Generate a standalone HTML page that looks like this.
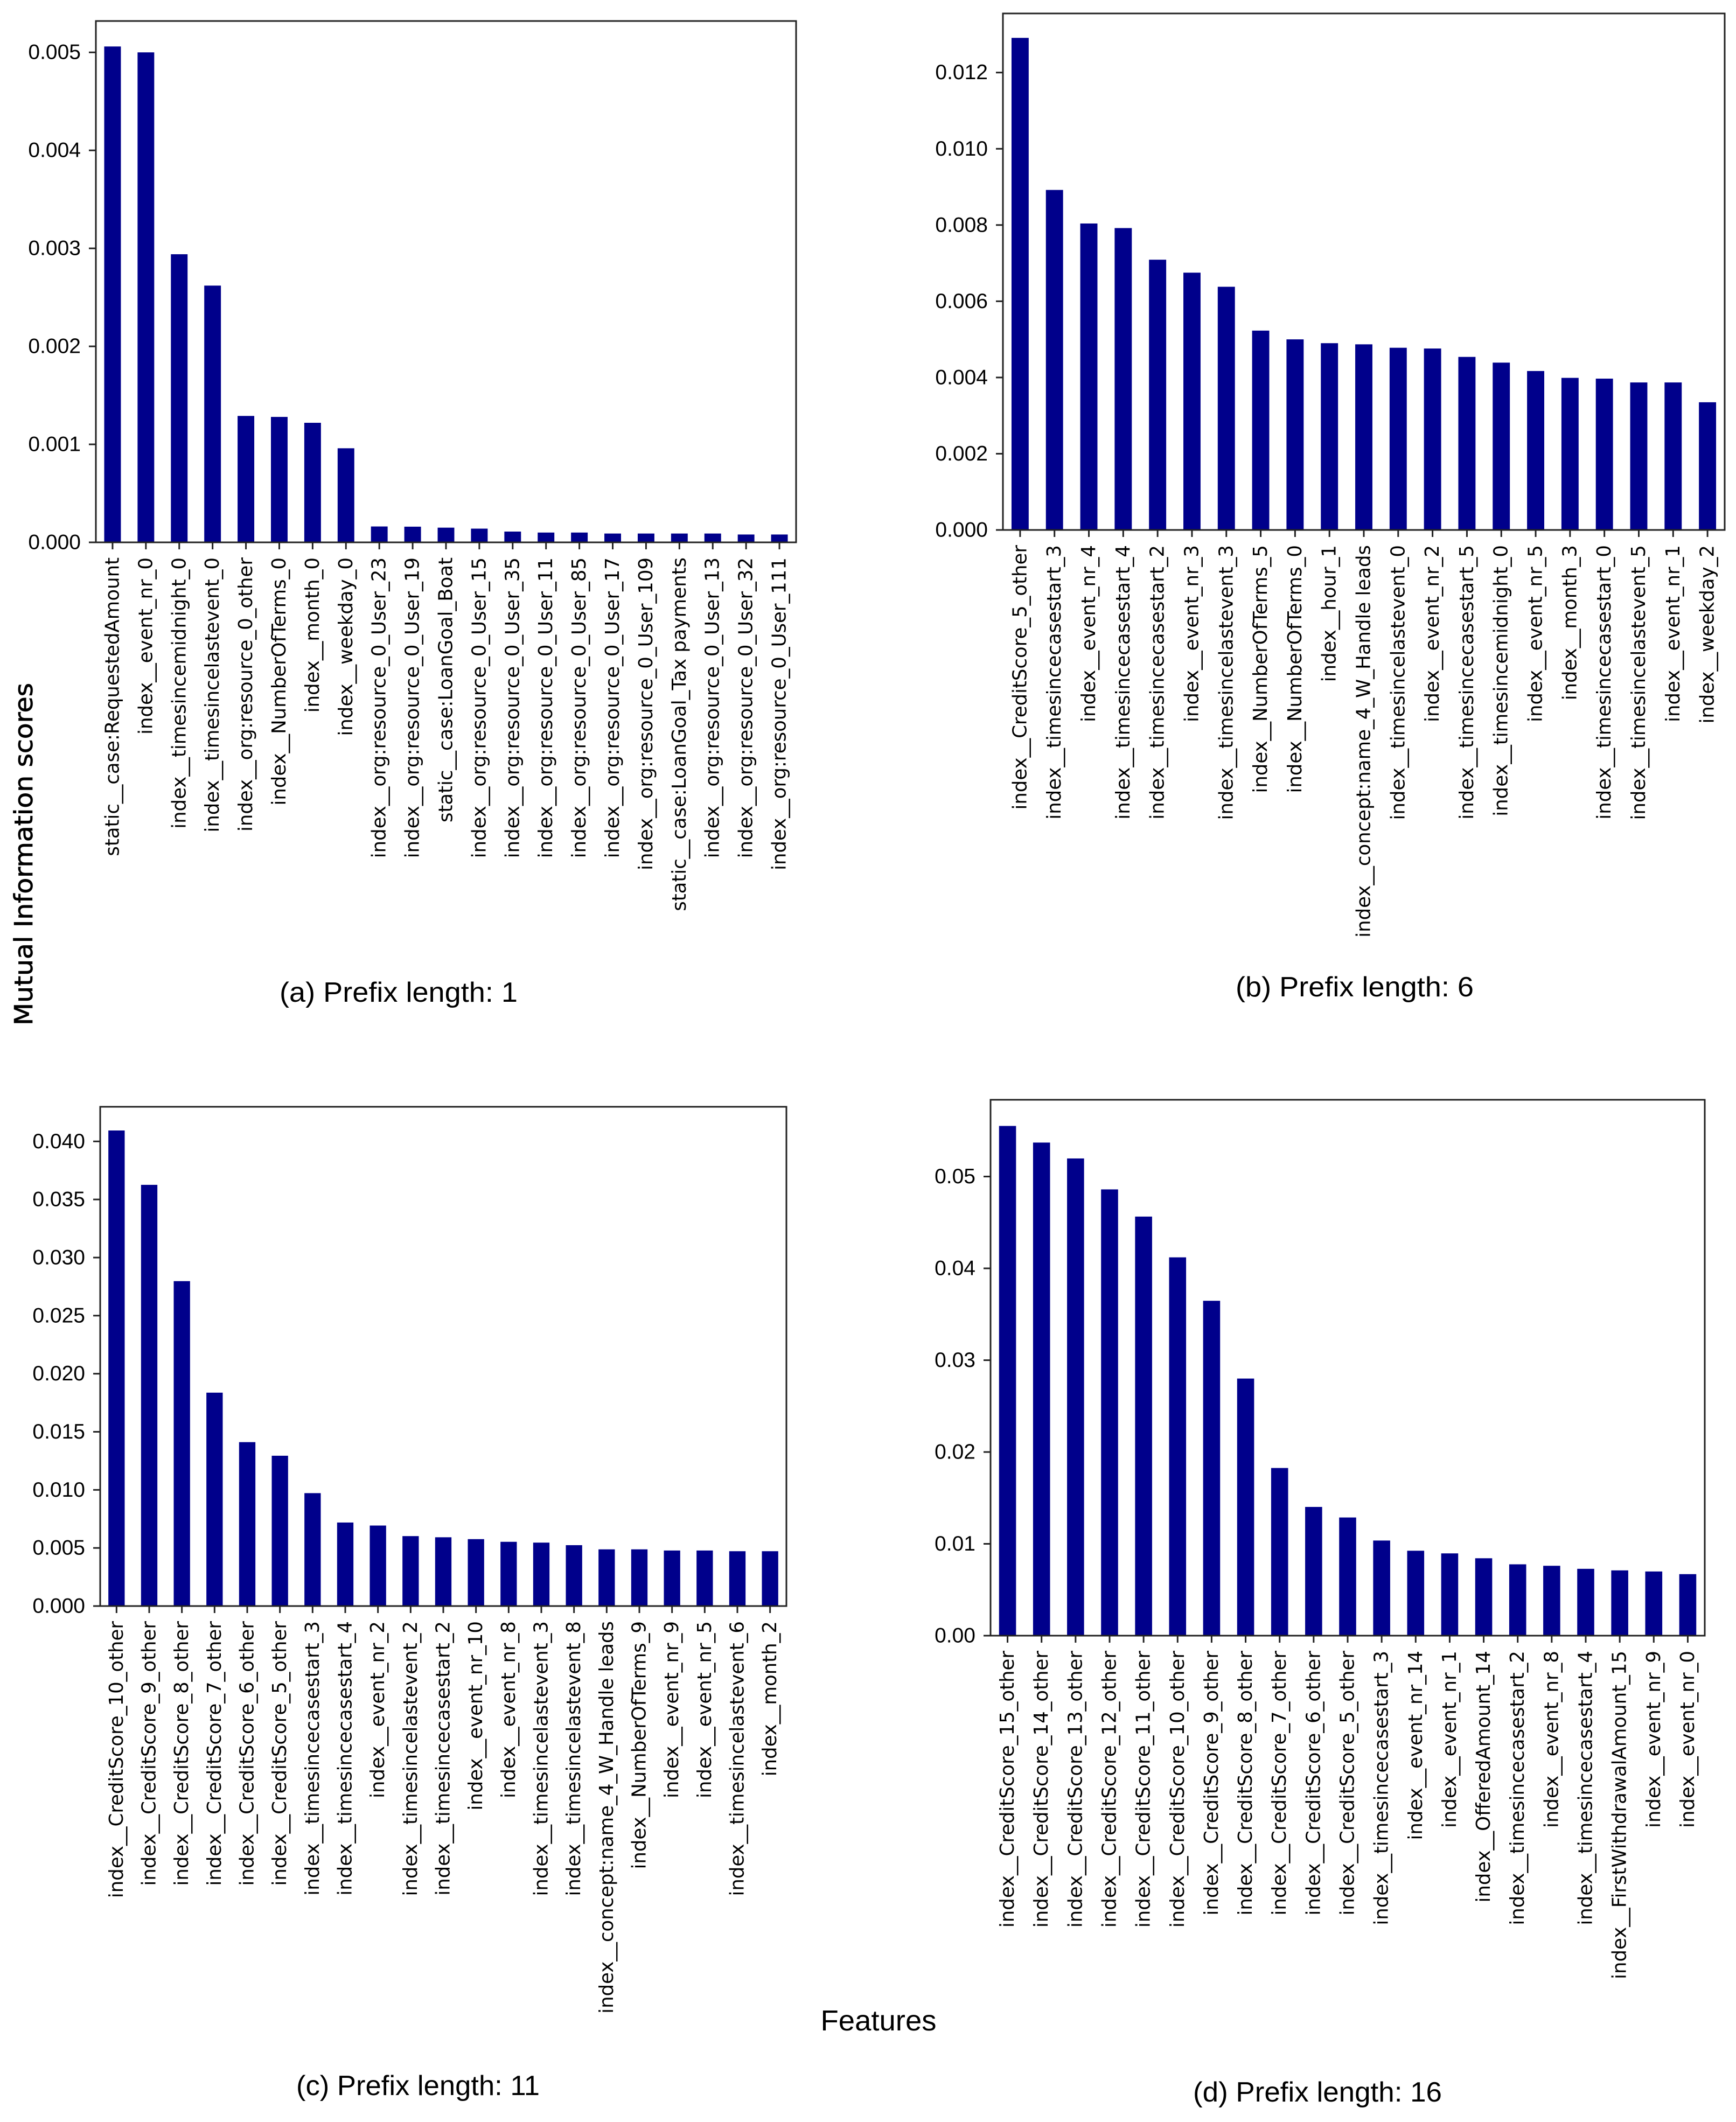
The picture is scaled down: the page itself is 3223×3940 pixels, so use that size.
<!DOCTYPE html>
<html><head><meta charset="utf-8"><style>
html,body{margin:0;padding:0;background:#fff;}
svg{display:block;}
</style></head><body>
<svg id="root" xmlns="http://www.w3.org/2000/svg" width="3223" height="3940" viewBox="0 0 3223 3940">
<rect x="0" y="0" width="3223" height="3940" fill="#fff"/>
<text x="0" y="0" transform="translate(60,1586) rotate(-90)" text-anchor="middle" font-family="DejaVu Sans, sans-serif" font-size="46" textLength="636" lengthAdjust="spacingAndGlyphs" fill="#000" stroke="#000" stroke-width="0.8">Mutual Information scores</text>
<text x="1631" y="3770" text-anchor="middle" font-family="Liberation Sans, sans-serif" font-size="54" textLength="215" lengthAdjust="spacingAndGlyphs" fill="#000">Features</text>
<text x="519" y="1860" font-family="Liberation Sans, sans-serif" font-size="52" textLength="442" lengthAdjust="spacingAndGlyphs" fill="#000">(a)   Prefix length: 1</text>
<text x="2294" y="1850" font-family="Liberation Sans, sans-serif" font-size="52" textLength="442" lengthAdjust="spacingAndGlyphs" fill="#000">(b)   Prefix length: 6</text>
<text x="550" y="3890" font-family="Liberation Sans, sans-serif" font-size="52" textLength="452" lengthAdjust="spacingAndGlyphs" fill="#000">(c)  Prefix length: 11</text>
<text x="2215" y="3902" font-family="Liberation Sans, sans-serif" font-size="52" textLength="462" lengthAdjust="spacingAndGlyphs" fill="#000">(d)  Prefix length: 16</text>
</svg>
<script>
const labelsA = ["static__case:RequestedAmount","index__event_nr_0","index__timesincemidnight_0","index__timesincelastevent_0","index__org:resource_0_other","index__NumberOfTerms_0","index__month_0","index__weekday_0","index__org:resource_0_User_23","index__org:resource_0_User_19","static__case:LoanGoal_Boat","index__org:resource_0_User_15","index__org:resource_0_User_35","index__org:resource_0_User_11","index__org:resource_0_User_85","index__org:resource_0_User_17","index__org:resource_0_User_109","static__case:LoanGoal_Tax payments","index__org:resource_0_User_13","index__org:resource_0_User_32","index__org:resource_0_User_111"];
const valuesA = [0.00506,0.00500,0.00294,0.00262,0.00129,0.00128,0.00122,0.00096,0.000162,0.00016,0.00015,0.00014,0.00011,0.0001,0.0001,0.00009,0.00009,0.00009,0.00009,0.00008,0.00008];
const ticksA = [0,0.001,0.002,0.003,0.004,0.005];
const tickLabelsA = ["0.000","0.001","0.002","0.003","0.004","0.005"];

const labelsB = ["index__CreditScore_5_other","index__timesincecasestart_3","index__event_nr_4","index__timesincecasestart_4","index__timesincecasestart_2","index__event_nr_3","index__timesincelastevent_3","index__NumberOfTerms_5","index__NumberOfTerms_0","index__hour_1","index__concept:name_4_W_Handle leads","index__timesincelastevent_0","index__event_nr_2","index__timesincecasestart_5","index__timesincemidnight_0","index__event_nr_5","index__month_3","index__timesincecasestart_0","index__timesincelastevent_5","index__event_nr_1","index__weekday_2"];
const valuesB = [0.01291,0.00892,0.00804,0.00792,0.00709,0.00675,0.00638,0.00523,0.0050,0.0049,0.00487,0.00478,0.00476,0.00454,0.00439,0.00417,0.00399,0.00397,0.00387,0.00387,0.00335];
const ticksB = [0,0.002,0.004,0.006,0.008,0.010,0.012];
const tickLabelsB = ["0.000","0.002","0.004","0.006","0.008","0.010","0.012"];

const labelsC = ["index__CreditScore_10_other","index__CreditScore_9_other","index__CreditScore_8_other","index__CreditScore_7_other","index__CreditScore_6_other","index__CreditScore_5_other","index__timesincecasestart_3","index__timesincecasestart_4","index__event_nr_2","index__timesincelastevent_2","index__timesincecasestart_2","index__event_nr_10","index__event_nr_8","index__timesincelastevent_3","index__timesincelastevent_8","index__concept:name_4_W_Handle leads","index__NumberOfTerms_9","index__event_nr_9","index__event_nr_5","index__timesincelastevent_6","index__month_2"];
const valuesC = [0.04094,0.03626,0.02797,0.01837,0.01411,0.01294,0.00972,0.00719,0.00693,0.00602,0.00592,0.00576,0.00553,0.00546,0.00524,0.00488,0.00488,0.00478,0.00478,0.00472,0.00472];
const ticksC = [0,0.005,0.010,0.015,0.020,0.025,0.030,0.035,0.040];
const tickLabelsC = ["0.000","0.005","0.010","0.015","0.020","0.025","0.030","0.035","0.040"];

const labelsD = ["index__CreditScore_15_other","index__CreditScore_14_other","index__CreditScore_13_other","index__CreditScore_12_other","index__CreditScore_11_other","index__CreditScore_10_other","index__CreditScore_9_other","index__CreditScore_8_other","index__CreditScore_7_other","index__CreditScore_6_other","index__CreditScore_5_other","index__timesincecasestart_3","index__event_nr_14","index__event_nr_1","index__OfferedAmount_14","index__timesincecasestart_2","index__event_nr_8","index__timesincecasestart_4","index__FirstWithdrawalAmount_15","index__event_nr_9","index__event_nr_0"];
const valuesD = [0.05551,0.0537,0.05197,0.0486,0.04564,0.0412,0.03647,0.028,0.01826,0.01402,0.01287,0.01036,0.00925,0.00896,0.00843,0.00777,0.00761,0.00728,0.00711,0.00699,0.0067];
const ticksD = [0,0.01,0.02,0.03,0.04,0.05];
const tickLabelsD = ["0.00","0.01","0.02","0.03","0.04","0.05"];

const yMaxA = 0.00532, yMaxB = 0.01355, yMaxC = 0.04298, yMaxD = 0.05836;

const NS = "http://www.w3.org/2000/svg";
const root = document.getElementById('root');
function mk(tag, attrs, parent){
  const e = document.createElementNS(NS, tag);
  for (const k in attrs) e.setAttribute(k, attrs[k]);
  parent.appendChild(e);
  return e;
}
function drawChart(id, frame, labels, values, ticks, tickLabels, yMax){
  const g = mk('g', {}, root);
  
  
  const n = labels.length;
  const bw = (frame.r - frame.l) / n;
  const xC = i => frame.l + bw * (i + 0.5);
  const yS = v => frame.b - (v / yMax) * (frame.b - frame.t);
  values.forEach((v, i) => {
    const r = mk('rect', {x: xC(i) - bw / 4, y: yS(v), width: bw / 2, height: frame.b - yS(v), fill: '#00008B'}, g);
    
    
  });
  const fr = mk('rect', {x: frame.l, y: frame.t, width: frame.r - frame.l, height: frame.b - frame.t, fill: 'none', stroke: '#222', 'stroke-width': 3}, g);
  
  
  ticks.forEach((t, i) => {
    const y = yS(t);
    mk('line', {x1: frame.l - 13, x2: frame.l, y1: y, y2: y, stroke: '#222', 'stroke-width': 3}, g);
    const tx = mk('text', {x: frame.l - 28, y: y, 'text-anchor': 'end', 'dominant-baseline': 'central', 'font-family': 'Liberation Sans, sans-serif', 'font-size': 39, fill: '#000'}, g);
    tx.textContent = tickLabels[i];
    
    
  });
  labels.forEach((lab, i) => {
    const x = xC(i);
    mk('line', {x1: x, x2: x, y1: frame.b, y2: frame.b + 13, stroke: '#222', 'stroke-width': 3}, g);
    const tx = mk('text', {x: 0, y: 0, transform: 'translate(' + x + ',' + (frame.b + 28) + ') rotate(-90)', 'text-anchor': 'end', 'dominant-baseline': 'central', 'font-family': 'DejaVu Sans, sans-serif', 'font-size': 35.5, fill: '#000'}, g);
    tx.textContent = lab;
    
    
  });
}
drawChart('a', {l:178, r:1478, t:39, b:1007}, labelsA, valuesA, ticksA, tickLabelsA, yMaxA);
drawChart('b', {l:1862, r:3202, t:25, b:984}, labelsB, valuesB, ticksB, tickLabelsB, yMaxB);
drawChart('c', {l:186, r:1460, t:2055, b:2982}, labelsC, valuesC, ticksC, tickLabelsC, yMaxC);
drawChart('d', {l:1839, r:3165, t:2042, b:3037}, labelsD, valuesD, ticksD, tickLabelsD, yMaxD);
</script>
</body></html>
